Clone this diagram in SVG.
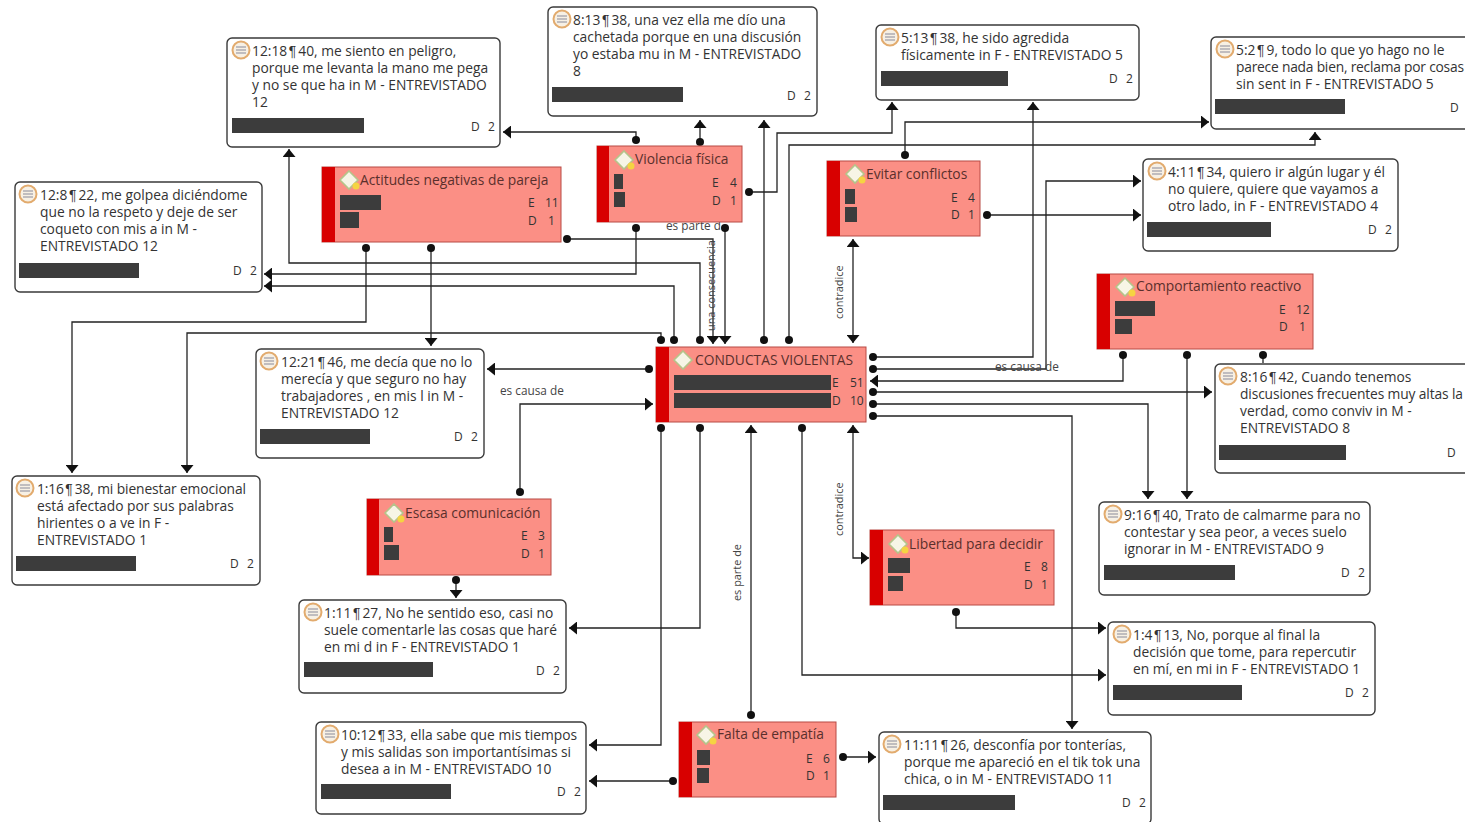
<svg xmlns="http://www.w3.org/2000/svg" width="1465" height="822" viewBox="0 0 1465 822">
<style>
text{font-family:"Open Sans","Noto Sans","Liberation Sans",sans-serif;fill:#333}
.t{font-size:13.8px}
.p{font-family:"Liberation Sans",sans-serif;letter-spacing:-1.5px}
.m{font-size:12px}
.l{font-size:11.8px;fill:#444}
.v{font-size:10.9px;fill:#444}
.h{font-size:13.8px;fill:#5a2f2c}
.card{fill:#fff;stroke:#3a3a3a;stroke-width:1.4}
.code{fill:#fb8f85;stroke:#b84a44;stroke-width:1}
.side{fill:#d80000}
.bar{fill:#3c3c3c}
.ic{fill:#f7f0e4;stroke:#e2ab6e;stroke-width:2}
.il{stroke:#8a8a9a;stroke-width:1.2}
.dm{fill:#f7f5e6;stroke:#b5c48a;stroke-width:1.6}
.bd{fill:#f5d442}
#c path{fill:none;stroke:#222;stroke-width:1.3}
</style>
<defs>
<g id="note"><circle cx="0" cy="0" r="8.5" class="ic"/><path d="M-5-3H5M-5 0H5M-5 3H5" class="il"/></g>
<g id="diam"><path d="M0-9 9 0 0 9-9 0Z" class="dm"/><circle cx="7" cy="6" r="3.5" class="bd"/></g>
<g id="diam0"><path d="M0-9 9 0 0 9-9 0Z" class="dm"/></g>
<marker id="a" viewBox="0 0 8 13" refX="8" refY="6.5" markerWidth="8" markerHeight="13" markerUnits="userSpaceOnUse" orient="auto-start-reverse"><path d="M0 0 8 6.5 0 13Z" fill="#111"/></marker>
<marker id="d" viewBox="0 0 10 10" refX="5" refY="5" markerWidth="8" markerHeight="8" markerUnits="userSpaceOnUse" orient="auto"><circle cx="5" cy="5" r="5" fill="#111"/></marker>
</defs>

<g id="c">
<path marker-start="url(#d)" marker-end="url(#a)" d="M636 140V132H503"/>
<path marker-start="url(#d)" marker-end="url(#a)" d="M700 142V120"/>
<path marker-start="url(#d)" marker-end="url(#a)" d="M764 340V120"/>
<path marker-start="url(#d)" marker-end="url(#a)" d="M749 192H777V133H892V102"/>
<path marker-start="url(#d)" marker-end="url(#a)" d="M789 340V145H1315V132"/>
<path marker-start="url(#d)" marker-end="url(#a)" d="M905 155V122H1209"/>
<path marker-start="url(#d)" marker-end="url(#a)" d="M987 215H1141"/>
<path marker-start="url(#d)" marker-end="url(#a)" d="M873 357H1033V102"/>
<path marker-start="url(#d)" marker-end="url(#a)" d="M873 369H1046V181H1141"/>
<path marker-start="url(#d)" marker-end="url(#a)" d="M1123 355V381H870"/>
<path marker-start="url(#d)" marker-end="url(#a)" d="M873 392H1212"/>
<path marker-start="url(#d)" d="M1263 355V363"/>
<path marker-start="url(#d)" marker-end="url(#a)" d="M873 404H1148V499"/>
<path marker-start="url(#d)" marker-end="url(#a)" d="M1187 355V499"/>
<path marker-start="url(#d)" marker-end="url(#a)" d="M873 416H1072V729"/>
<path marker-start="url(#d)" marker-end="url(#a)" d="M567 239H713V344"/>
<path marker-start="url(#d)" marker-end="url(#a)" d="M700 340V263H289V149"/>
<path marker-start="url(#d)" marker-end="url(#a)" d="M636 228V274H264"/>
<path marker-start="url(#d)" marker-end="url(#a)" d="M674 340V286H264"/>
<path marker-start="url(#d)" marker-end="url(#a)" d="M366 248V322H72V473"/>
<path marker-start="url(#d)" marker-end="url(#a)" d="M661 340V333H187V473"/>
<path marker-start="url(#d)" marker-end="url(#a)" d="M431 248V346"/>
<path marker-start="url(#d)" marker-end="url(#a)" d="M725 228V344"/>
<path marker-start="url(#d)" marker-end="url(#a)" d="M649 369H487"/>
<path marker-start="url(#d)" marker-end="url(#a)" d="M520 492V404H653"/>
<path marker-start="url(#a)" marker-end="url(#a)" d="M853 239V343"/>
<path marker-start="url(#d)" marker-end="url(#a)" d="M661 428V745H589"/>
<path marker-start="url(#d)" marker-end="url(#a)" d="M700 428V628H569"/>
<path marker-start="url(#d)" marker-end="url(#a)" d="M751 715V425"/>
<path marker-start="url(#d)" marker-end="url(#a)" d="M802 428V675H1106"/>
<path marker-start="url(#a)" marker-end="url(#a)" d="M853 425V558H869"/>
<path marker-start="url(#d)" marker-end="url(#a)" d="M456 580V598"/>
<path marker-start="url(#d)" marker-end="url(#a)" d="M956 612V628H1106"/>
<path marker-start="url(#d)" marker-end="url(#a)" d="M673 781H589"/>
<path marker-start="url(#d)" marker-end="url(#a)" d="M843 757H876"/>
</g>

<g id="labels">
<text class="l" x="666" y="230">es parte d</text>
<text class="v" transform="translate(715 331) rotate(-90)">una consecuencia</text>
<text class="v" transform="translate(843 319) rotate(-90)">contradice</text>
<text class="l" x="995" y="371">es causa de</text>
<text class="l" x="500" y="395">es causa de</text>
<text class="v" transform="translate(843 536) rotate(-90)">contradice</text>
<text class="v" transform="translate(741 601) rotate(-90)">es parte de</text>
</g>

<g id="n1"><rect class="card" x="227" y="38" width="273" height="109" rx="5"/><use href="#note" x="241" y="50"/><text class="t" x="252" y="56">12:18 <tspan class="p" dx="-2">¶</tspan> 40, me siento en peligro,</text><text class="t" x="252" y="73">porque me levanta la mano me pega</text><text class="t" x="252" y="90">y no se que ha in M - ENTREVISTADO</text><text class="t" x="252" y="107">12</text><rect class="bar" x="232" y="118" width="132" height="15"/><text class="m" x="471" y="131">D</text><text class="m" x="488" y="131">2</text></g>
<g id="n2"><rect class="card" x="548" y="7" width="269" height="109" rx="5"/><use href="#note" x="562" y="19"/><text class="t" x="573" y="25">8:13 <tspan class="p" dx="-2">¶</tspan> 38, una vez ella me dío una</text><text class="t" x="573" y="42">cachetada porque en una discusión</text><text class="t" x="573" y="59">yo estaba mu in M - ENTREVISTADO</text><text class="t" x="573" y="76">8</text><rect class="bar" x="552" y="87" width="131" height="15"/><text class="m" x="787" y="100">D</text><text class="m" x="804" y="100">2</text></g>
<g id="n3"><rect class="card" x="876" y="25" width="263" height="75" rx="5"/><use href="#note" x="890" y="37"/><text class="t" x="901" y="43">5:13 <tspan class="p" dx="-2">¶</tspan> 38, he sido agredida</text><text class="t" x="901" y="60">físicamente in F - ENTREVISTADO 5</text><rect class="bar" x="881" y="71" width="127" height="15"/><text class="m" x="1109" y="83">D</text><text class="m" x="1126" y="83">2</text></g>
<g id="n4"><rect class="card" x="1211" y="37" width="270" height="92" rx="5"/><use href="#note" x="1225" y="49"/><text class="t" x="1236" y="55">5:2 <tspan class="p" dx="-2">¶</tspan> 9, todo lo que yo hago no le</text><text class="t" x="1236" y="72" textLength="228">parece nada bien, reclama por cosas</text><text class="t" x="1236" y="89">sin sent in F - ENTREVISTADO 5</text><rect class="bar" x="1215" y="99" width="130" height="15"/><text class="m" x="1450" y="112">D</text></g>
<g id="n5"><rect class="card" x="1143" y="159" width="255" height="92" rx="5"/><use href="#note" x="1157" y="171"/><text class="t" x="1168" y="177">4:11 <tspan class="p" dx="-2">¶</tspan> 34, quiero ir algún lugar y él</text><text class="t" x="1168" y="194">no quiere, quiere que vayamos a</text><text class="t" x="1168" y="211">otro lado, in F - ENTREVISTADO 4</text><rect class="bar" x="1147" y="222" width="124" height="15"/><text class="m" x="1368" y="234">D</text><text class="m" x="1385" y="234">2</text></g>
<g id="n6"><rect class="card" x="15" y="182" width="247" height="110" rx="5"/><use href="#note" x="28" y="194"/><text class="t" x="40" y="200">12:8 <tspan class="p" dx="-2">¶</tspan> 22, me golpea diciéndome</text><text class="t" x="40" y="217">que no la respeto y deje de ser</text><text class="t" x="40" y="234">coqueto con mis a in M -</text><text class="t" x="40" y="251">ENTREVISTADO 12</text><rect class="bar" x="19" y="263" width="120" height="15"/><text class="m" x="233" y="275">D</text><text class="m" x="250" y="275">2</text></g>
<g id="n7"><rect class="card" x="256" y="349" width="228" height="109" rx="5"/><use href="#note" x="269" y="361"/><text class="t" x="281" y="367">12:21 <tspan class="p" dx="-2">¶</tspan> 46, me decía que no lo</text><text class="t" x="281" y="384">merecía y que seguro no hay</text><text class="t" x="281" y="401">trabajadores , en mis l in M -</text><text class="t" x="281" y="418">ENTREVISTADO 12</text><rect class="bar" x="260" y="429" width="110" height="15"/><text class="m" x="454" y="441">D</text><text class="m" x="471" y="441">2</text></g>
<g id="n8"><rect class="card" x="1215" y="364" width="270" height="109" rx="5"/><use href="#note" x="1228" y="376"/><text class="t" x="1240" y="382">8:16 <tspan class="p" dx="-2">¶</tspan> 42, Cuando tenemos</text><text class="t" x="1240" y="399" textLength="223">discusiones frecuentes muy altas la</text><text class="t" x="1240" y="416">verdad, como conviv in M -</text><text class="t" x="1240" y="433">ENTREVISTADO 8</text><rect class="bar" x="1219" y="445" width="127" height="15"/><text class="m" x="1447" y="457">D</text></g>
<g id="n9"><rect class="card" x="12" y="476" width="248" height="109" rx="5"/><use href="#note" x="25" y="488"/><text class="t" x="37" y="494" textLength="209">1:16 <tspan class="p" dx="-2">¶</tspan> 38, mi bienestar emocional</text><text class="t" x="37" y="511">está afectado por sus palabras</text><text class="t" x="37" y="528">hirientes o a ve in F -</text><text class="t" x="37" y="545">ENTREVISTADO 1</text><rect class="bar" x="16" y="556" width="120" height="15"/><text class="m" x="230" y="568">D</text><text class="m" x="247" y="568">2</text></g>
<g id="n10"><rect class="card" x="1099" y="502" width="271" height="93" rx="5"/><use href="#note" x="1113" y="514"/><text class="t" x="1124" y="520">9:16 <tspan class="p" dx="-2">¶</tspan> 40, Trato de calmarme para no</text><text class="t" x="1124" y="537">contestar y sea peor, a veces suelo</text><text class="t" x="1124" y="554">ignorar in M - ENTREVISTADO 9</text><rect class="bar" x="1104" y="565" width="131" height="15"/><text class="m" x="1341" y="577">D</text><text class="m" x="1358" y="577">2</text></g>
<g id="n11"><rect class="card" x="299" y="600" width="267" height="93" rx="5"/><use href="#note" x="313" y="612"/><text class="t" x="324" y="618">1:11 <tspan class="p" dx="-2">¶</tspan> 27, No he sentido eso, casi no</text><text class="t" x="324" y="635">suele comentarle las cosas que haré</text><text class="t" x="324" y="652">en mi d in F - ENTREVISTADO 1</text><rect class="bar" x="304" y="662" width="129" height="15"/><text class="m" x="536" y="675">D</text><text class="m" x="553" y="675">2</text></g>
<g id="n12"><rect class="card" x="1108" y="622" width="267" height="93" rx="5"/><use href="#note" x="1122" y="634"/><text class="t" x="1133" y="640">1:4 <tspan class="p" dx="-2">¶</tspan> 13, No, porque al final la</text><text class="t" x="1133" y="657">decisión que tome, para repercutir</text><text class="t" x="1133" y="674">en mí, en mi in F - ENTREVISTADO 1</text><rect class="bar" x="1113" y="685" width="129" height="15"/><text class="m" x="1345" y="697">D</text><text class="m" x="1362" y="697">2</text></g>
<g id="n13"><rect class="card" x="316" y="722" width="270" height="92" rx="5"/><use href="#note" x="330" y="734"/><text class="t" x="341" y="740">10:12 <tspan class="p" dx="-2">¶</tspan> 33, ella sabe que mis tiempos</text><text class="t" x="341" y="757">y mis salidas son importantísimas si</text><text class="t" x="341" y="774">desea a in M - ENTREVISTADO 10</text><rect class="bar" x="321" y="784" width="130" height="15"/><text class="m" x="557" y="796">D</text><text class="m" x="574" y="796">2</text></g>
<g id="n14"><rect class="card" x="879" y="732" width="272" height="92" rx="5"/><use href="#note" x="892" y="744"/><text class="t" x="904" y="750">11:11 <tspan class="p" dx="-2">¶</tspan> 26, desconfía por tonterías,</text><text class="t" x="904" y="767">porque me apareció en el tik tok una</text><text class="t" x="904" y="784">chica, o in M - ENTREVISTADO 11</text><rect class="bar" x="883" y="795" width="132" height="15"/><text class="m" x="1122" y="807">D</text><text class="m" x="1139" y="807">2</text></g>

<g id="cv"><rect class="code" x="656" y="347" width="210" height="75"/><rect class="side" x="656" y="347" width="13" height="75"/><use href="#diam0" x="683" y="360"/><text class="h" x="695" y="365">CONDUCTAS VIOLENTAS</text><rect class="bar" x="674" y="375" width="157" height="15"/><rect class="bar" x="674" y="393" width="157" height="15"/><text class="m" x="832" y="387">E</text><text class="m" x="850" y="387">51</text><text class="m" x="832" y="405">D</text><text class="m" x="850" y="405">10</text></g>
<g id="vf"><rect class="code" x="597" y="146" width="145" height="76"/><rect class="side" x="597" y="146" width="12" height="76"/><use href="#diam" x="624" y="160"/><text class="h" x="635" y="164">Violencia física</text><rect class="bar" x="614" y="174" width="9" height="15"/><rect class="bar" x="614" y="192" width="11" height="15"/><text class="m" x="712" y="187">E</text><text class="m" x="730" y="187">4</text><text class="m" x="712" y="205">D</text><text class="m" x="730" y="205">1</text></g>
<g id="an"><rect class="code" x="322" y="167" width="239" height="75"/><rect class="side" x="322" y="167" width="13" height="75"/><use href="#diam" x="349" y="180"/><text class="h" x="360" y="185">Actitudes negativas de pareja</text><rect class="bar" x="340" y="195" width="41" height="15"/><rect class="bar" x="340" y="212" width="19" height="16"/><text class="m" x="528" y="207">E</text><text class="m" x="545" y="207">11</text><text class="m" x="528" y="225">D</text><text class="m" x="548" y="225">1</text></g>
<g id="ec"><rect class="code" x="827" y="161" width="153" height="75"/><rect class="side" x="827" y="161" width="13" height="75"/><use href="#diam" x="855" y="174"/><text class="h" x="866" y="179">Evitar conflictos</text><rect class="bar" x="845" y="189" width="10" height="15"/><rect class="bar" x="845" y="207" width="12" height="15"/><text class="m" x="951" y="202">E</text><text class="m" x="968" y="202">4</text><text class="m" x="951" y="219">D</text><text class="m" x="968" y="219">1</text></g>
<g id="cr"><rect class="code" x="1097" y="274" width="216" height="75"/><rect class="side" x="1097" y="274" width="13" height="75"/><use href="#diam" x="1125" y="287"/><text class="h" x="1136" y="291">Comportamiento reactivo</text><rect class="bar" x="1115" y="301" width="40" height="15"/><rect class="bar" x="1115" y="319" width="17" height="15"/><text class="m" x="1279" y="314">E</text><text class="m" x="1296" y="314">12</text><text class="m" x="1279" y="331">D</text><text class="m" x="1299" y="331">1</text></g>
<g id="es"><rect class="code" x="367" y="499" width="184" height="76"/><rect class="side" x="367" y="499" width="12" height="76"/><use href="#diam" x="394" y="513"/><text class="h" x="405" y="518">Escasa comunicación</text><rect class="bar" x="384" y="527" width="9" height="15"/><rect class="bar" x="384" y="545" width="15" height="15"/><text class="m" x="521" y="540">E</text><text class="m" x="538" y="540">3</text><text class="m" x="521" y="558">D</text><text class="m" x="538" y="558">1</text></g>
<g id="lp"><rect class="code" x="870" y="530" width="184" height="75"/><rect class="side" x="870" y="530" width="13" height="75"/><use href="#diam" x="898" y="544"/><text class="h" x="909" y="549">Libertad para decidir</text><rect class="bar" x="888" y="558" width="22" height="15"/><rect class="bar" x="888" y="576" width="15" height="15"/><text class="m" x="1024" y="571">E</text><text class="m" x="1041" y="571">8</text><text class="m" x="1024" y="589">D</text><text class="m" x="1041" y="589">1</text></g>
<g id="fe"><rect class="code" x="679" y="722" width="157" height="75"/><rect class="side" x="679" y="722" width="13" height="75"/><use href="#diam" x="706" y="735"/><text class="h" x="717" y="739">Falta de empatía</text><rect class="bar" x="697" y="750" width="13" height="15"/><rect class="bar" x="697" y="768" width="12" height="15"/><text class="m" x="806" y="763">E</text><text class="m" x="823" y="763">6</text><text class="m" x="806" y="780">D</text><text class="m" x="823" y="780">1</text></g>
</svg>
